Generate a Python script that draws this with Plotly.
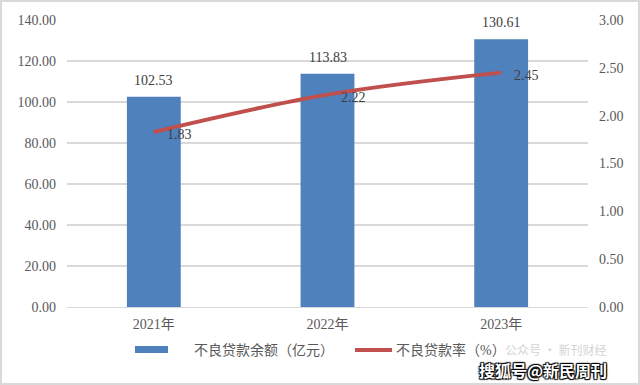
import plotly.graph_objects as go

years = ["2021年", "2022年", "2023年"]
balance = [102.53, 113.83, 130.61]
ratio = [1.83, 2.22, 2.45]
left_ticks = [0, 20, 40, 60, 80, 100, 120, 140]
right_ticks = [0, 0.5, 1.0, 1.5, 2.0, 2.5, 3.0]
series_names = ["不良贷款余额（亿元）", "不良贷款率（%）"]

font_fam = "Liberation Serif, Noto Sans CJK SC, serif"
gray = "#595959"
bar_color = "#4F81BD"
line_color = "#C0504D"

W, H = 640, 385
ML, MR, MT, MB = 67, 52, 20, 78
PW, PH = W - ML - MR, H - MT - MB


def px(x):
    return (x - ML) / PW


def py(y):
    return (H - MB - y) / PH


fig = go.Figure()
fig.add_trace(go.Bar(
    x=years, y=balance, name=series_names[0],
    marker=dict(color=bar_color, line=dict(width=0)),
    width=0.31, showlegend=False,
))
fig.add_trace(go.Scatter(
    x=years, y=ratio, name=series_names[1], yaxis="y2",
    mode="lines", line=dict(color=line_color, width=4, shape="spline"),
    cliponaxis=False, showlegend=False,
))
for x, v in zip(years, balance):
    fig.add_annotation(x=x, y=v, text=f"{v:.2f}", showarrow=False,
                       yanchor="bottom", yshift=7,
                       font=dict(size=14, color="#404040", family=font_fam))
for x, v in zip(years, ratio):
    fig.add_annotation(x=x, y=v, yref="y2", text=f"{v:.2f}", showarrow=False,
                       xanchor="left", yanchor="middle", xshift=11, yshift=-3,
                       font=dict(size=14, color="#404040", family=font_fam))

fig.update_layout(
    width=W, height=H,
    margin=dict(l=ML, r=MR, t=MT, b=MB, autoexpand=False),
    paper_bgcolor="white", plot_bgcolor="white",
    font=dict(family=font_fam, color=gray, size=13),
    showlegend=False,
    xaxis=dict(showline=True, linecolor="#D9D9D9", linewidth=1, ticks="",
               tickfont=dict(size=14, color=gray), ticklabelstandoff=4),
    yaxis=dict(range=[0, 140], tickvals=left_ticks,
               ticktext=[f"{v:.2f}" for v in left_ticks],
               showgrid=True, gridcolor="#D9D9D9", gridwidth=1.5, zeroline=False,
               tickfont=dict(size=14, color=gray), ticklabelstandoff=10),
    yaxis2=dict(range=[0, 3], tickvals=right_ticks,
                ticktext=[f"{v:.2f}" for v in right_ticks],
                overlaying="y", side="right", showgrid=False, zeroline=False,
                tickfont=dict(size=14, color=gray), ticklabelstandoff=10),
)

# outer border
fig.add_shape(type="rect", xref="paper", yref="paper",
              x0=px(1), x1=px(639), y0=py(384), y1=py(1),
              line=dict(color="#D9D9D9", width=2), fillcolor="rgba(0,0,0,0)")

# custom legend
fig.add_shape(type="rect", xref="paper", yref="paper",
              x0=px(135), x1=px(168), y0=py(353), y1=py(346),
              line=dict(width=0), fillcolor=bar_color)
fig.add_annotation(text=series_names[0], xref="paper", yref="paper",
                   x=px(192), y=py(350), xanchor="left", yanchor="middle",
                   showarrow=False, font=dict(size=14, color=gray))
fig.add_shape(type="line", xref="paper", yref="paper",
              x0=px(355), x1=px(392), y0=py(350), y1=py(350),
              line=dict(color=line_color, width=4))
fig.add_annotation(text=series_names[1], xref="paper", yref="paper",
                   x=px(394), y=py(350), xanchor="left", yanchor="middle",
                   showarrow=False, font=dict(size=14, color=gray))

# watermarks
fig.add_annotation(text="公众号 · 新刊财经", xref="paper", yref="paper",
                   x=px(608), y=py(349), xanchor="right", yanchor="middle",
                   showarrow=False,
                   font=dict(size=12, color="rgba(200,200,200,0.8)", family="Noto Sans CJK SC"))
fig.add_annotation(text="<b>搜狐号@新民周刊</b>", xref="paper", yref="paper",
                   x=px(609), y=py(370), xanchor="right", yanchor="middle",
                   showarrow=False,
                   font=dict(size=16, color="white", family="Noto Sans CJK SC",
                             shadow="1px 1px 1px #000, -1px -1px 1px #000, 1px -1px 1px #000, -1px 1px 1px #000"))
fig.write_html("out.html", config={"displayModeBar": False},
               post_script="document.body.style.margin='0';")
